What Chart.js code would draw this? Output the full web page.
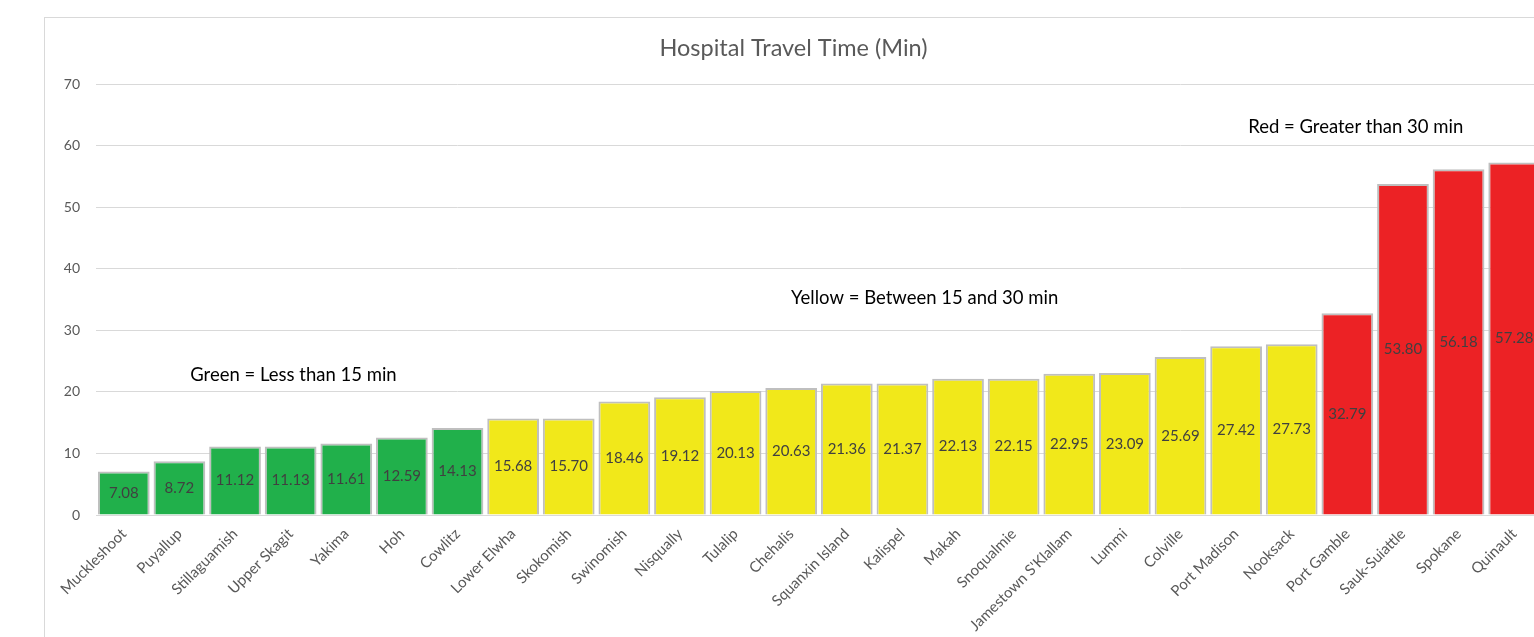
<!DOCTYPE html>
<html>
<head>
<meta charset="utf-8">
<script src="https://cdn.jsdelivr.net/npm/chart.js@4.4.1/dist/chart.umd.min.js"></script>
<style>
    body { margin: 0; background: #fff; overflow: hidden; }
    #frame { position: absolute; left: 44px; top: 17px; width: 1518px; height: 700px; border: 1px solid #d9d9d9; }
</style>
</head>
<body>
<div id="frame"><canvas id="travelChart" width="1517" height="660"></canvas></div>
<script>
const tribes = ['Muckleshoot', 'Puyallup', 'Stillaguamish', 'Upper Skagit', 'Yakima', 'Hoh', 'Cowlitz',
    'Lower Elwha', 'Skokomish', 'Swinomish', 'Nisqually', 'Tulalip', 'Chehalis', 'Squanxin Island',
    'Kalispel', 'Makah', 'Snoqualmie', "Jamestown S'Klallam", 'Lummi', 'Colville', 'Port Madison',
    'Nooksack', 'Port Gamble', 'Sauk-Suiattle', 'Spokane', 'Quinault'];
const travelMinutes = [7.08, 8.72, 11.12, 11.13, 11.61, 12.59, 14.13,
    15.68, 15.70, 18.46, 19.12, 20.13, 20.63, 21.36,
    21.37, 22.13, 22.15, 22.95, 23.09, 25.69, 27.42,
    27.73, 32.79, 53.80, 56.18, 57.28];
const yTicks = [0, 10, 20, 30, 40, 50, 60, 70];

const fontFamily = 'Lato, "Open Sans", sans-serif';

function colorFor(v) {
    if (v < 15) return '#21b04b';
    if (v <= 30) return '#f1e81a';
    return '#ec2225';
}

// value labels in the middle of each bar
const barValues = {
    id: 'barValues',
    afterDatasetsDraw(chart) {
        const ctx = chart.ctx;
        const meta = chart.getDatasetMeta(0);
        ctx.save();
        ctx.font = '15px ' + fontFamily;
        ctx.fillStyle = '#404040';
        ctx.textAlign = 'center';
        ctx.textBaseline = 'middle';
        meta.data.forEach((bar, i) => {
            ctx.fillText(travelMinutes[i].toFixed(2), bar.x, (bar.y + bar.base) / 2);
        });
        ctx.restore();
    }
};

// the three colour notes
const notes = {
    id: 'notes',
    afterDraw(chart) {
        const x = chart.scales.x;
        const y = chart.scales.y;
        const ctx = chart.ctx;
        ctx.save();
        ctx.font = '18.5px ' + fontFamily;
        ctx.fillStyle = '#000';
        ctx.textAlign = 'center';
        ctx.textBaseline = 'middle';
        ctx.fillText('Green = Less than 15 min', x.getPixelForValue(3.05), y.getPixelForValue(22.7));
        ctx.fillText('Yellow = Between 15 and 30 min', x.getPixelForValue(14.4), y.getPixelForValue(35.2));
        ctx.fillText('Red = Greater than 30 min', x.getPixelForValue(22.15), y.getPixelForValue(63.0));
        ctx.restore();
    }
};

new Chart(document.getElementById('travelChart'), {
    type: 'bar',
    data: {
        labels: tribes,
        datasets: [{
            data: travelMinutes,
            backgroundColor: travelMinutes.map(colorFor),
            borderColor: '#bfbfbf',
            borderWidth: 2,
            barPercentage: 0.93,
            categoryPercentage: 1
        }]
    },
    options: {
        responsive: false,
        animation: false,
        layout: { padding: { left: 0, right: 20, top: 0, bottom: 0 } },
        plugins: {
            legend: { display: false },
            tooltip: { enabled: false },
            title: {
                display: true,
                text: 'Hospital Travel Time (Min)',
                color: '#595959',
                font: { family: fontFamily, size: 23.5, weight: 'normal' },
                padding: { top: 16, bottom: 22 }
            }
        },
        scales: {
            x: {
                grid: { display: false },
                border: { color: '#d9d9d9', width: 1 },
                ticks: {
                    color: '#595959',
                    font: { family: fontFamily, size: 15 },
                    minRotation: 45,
                    maxRotation: 45,
                    autoSkip: false,
                    padding: 2
                },
                afterFit(scale) { scale.height = 163; }
            },
            y: {
                min: 0,
                max: 70,
                afterBuildTicks(scale) { scale.ticks = yTicks.map(v => ({ value: v })); },
                grid: { color: '#d9d9d9', lineWidth: 1, drawTicks: false },
                border: { display: false },
                ticks: {
                    color: '#595959',
                    font: { family: fontFamily, size: 14 },
                    padding: 16
                },
                afterFit(scale) { scale.width = 51; }
            }
        }
    },
    plugins: [barValues, notes]
});
</script>
</body>
</html>
